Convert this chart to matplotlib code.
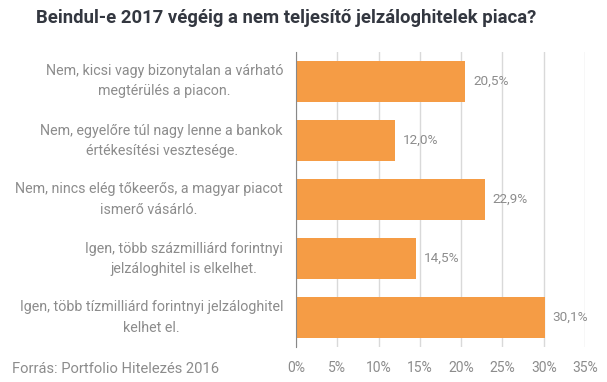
import matplotlib.pyplot as plt

plt.rcParams['font.family'] = ['Roboto', 'DejaVu Sans']

# ---------- Data ----------
categories = [
    "Nem, kicsi vagy bizonytalan a várható\nmegtérülés a piacon.",
    "Nem, egyelőre túl nagy lenne a bankok\nértékesítési vesztesége.",
    "Nem, nincs elég tőkeerős, a magyar piacot\nismerő vásárló.",
    "Igen, több százmilliárd forintnyi\njelzáloghitel is elkelhet.",
    "Igen, több tízmilliárd forintnyi jelzáloghitel\nkelhet el.",
]
values = [20.5, 12.0, 22.9, 14.5, 30.1]
xticks = [0, 5, 10, 15, 20, 25, 30, 35]

bar_color = "#F59C45"
text_gray = "#8C8C8C"

# ---------- Plot ----------
fig = plt.figure(figsize=(6.07, 3.82), dpi=100)
ax = fig.add_axes([296 / 607, 1 - 347 / 382, 289 / 607, 295 / 382])

y = list(range(len(categories)))
ax.barh(y, values, height=0.7, color=bar_color, zorder=3)
ax.set_ylim(len(categories) - 0.5, -0.5)
ax.set_xlim(0, 35)

for yi, v in zip(y, values):
    ax.text(v + 0.95, yi, f"{v:.1f}%".replace(".", ","), va="center", ha="left",
            fontsize=9.7, color=text_gray)

# category labels: block right-aligned next to the axis, each line centered in the block
ax.set_yticks(y)
ax.set_yticklabels([])
ax.tick_params(axis="y", length=0)
renderer = fig.canvas.get_renderer()
right_px = ax.transAxes.transform((0, 0))[0] - 13
line_gap = 7.2  # points, half the distance between the two lines
for yi, lab in zip(y, categories):
    lines = lab.split("\n")
    widths = []
    for ln in lines:
        t = ax.text(0, 0, ln, fontsize=10.3)
        widths.append(t.get_window_extent(renderer).width)
        t.remove()
    cx_px = right_px - max(widths) / 2
    cx = ax.transAxes.inverted().transform((cx_px, 0))[0]
    n = len(lines)
    for j, ln in enumerate(lines):
        off = ((n - 1) / 2 - j) * 2 * line_gap
        ax.annotate(ln, xy=(cx, yi), xycoords=("axes fraction", "data"),
                    xytext=(0, off), textcoords="offset points",
                    ha="center", va="center", fontsize=10.3, color=text_gray)

ax.set_xticks(xticks)
ax.set_xticklabels([f"{t}%" for t in xticks], fontsize=10, color=text_gray)
ax.tick_params(axis="x", length=0, pad=10)

ax.grid(axis="x", color="#D9D9D9", linewidth=1, zorder=0)
for s in ["top", "right", "bottom"]:
    ax.spines[s].set_visible(False)
ax.spines["left"].set_color("#888888")
ax.spines["left"].set_zorder(4)

fig.text(36 / 607, 1 - 18 / 382, "Beindul-e 2017 végéig a nem teljesítő jelzáloghitelek piaca?",
         fontsize=13.3, fontweight="bold", color="#333740", va="center", ha="left")
fig.text(12 / 607, 1 - 369 / 382, "Forrás: Portfolio Hitelezés 2016",
         fontsize=10.6, color=text_gray, va="center", ha="left")

fig.savefig("out.png", dpi=100)
